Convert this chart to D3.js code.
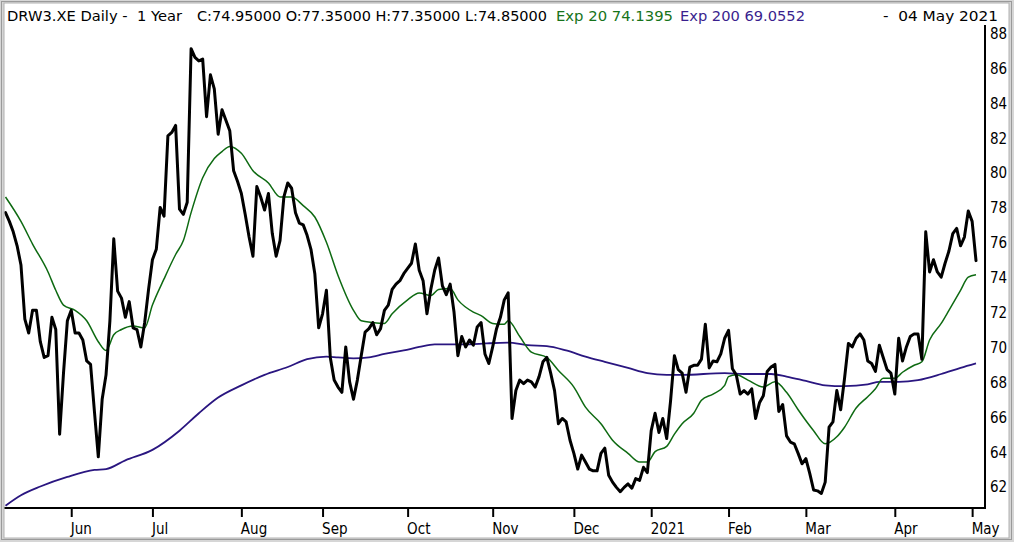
<!DOCTYPE html>
<html><head><meta charset="utf-8">
<script src="https://cdn.jsdelivr.net/npm/d3@7"></script>
<style>
html,body{margin:0;padding:0;background:#fff;}
svg{display:block;}
.lbl{font-family:"DejaVu Sans Condensed","DejaVu Sans",sans-serif;font-stretch:condensed;font-size:15px;fill:#000;}
.hdr{font-family:"DejaVu Sans",sans-serif;font-size:14.5px;}
</style></head>
<body>
<svg id="chart" width="1014" height="542"></svg>
<script>
// ---- data ----
const firstDay = "2020-05-07";
const lastDay = "2021-05-04";
const holidays = ["2020-06-01","2020-12-24","2020-12-25","2020-12-31","2021-01-01","2021-04-02","2021-04-05"];
const closes = [
77.7,77.2,76.6,75.8,74.7,71.6,70.8,72.1,72.1,70.3,
69.4,69.5,71.7,71.0,65.0,68.5,71.5,72.1,70.8,70.8,
70.4,69.2,69.0,66.3,63.7,67.0,68.4,71.5,76.2,73.2,
72.8,71.7,72.6,71.1,71.0,70.0,71.4,73.3,75.0,75.6,
78.0,77.5,82.1,82.3,82.7,77.9,77.6,78.3,87.1,86.6,
86.4,86.5,83.2,85.6,84.8,82.2,83.6,83.0,82.4,80.1,
79.5,78.8,77.6,76.3,75.2,79.2,78.6,77.85,78.8,76.5,
75.2,76.1,78.6,79.4,79.1,77.7,77.1,77.0,76.4,75.6,
74.2,71.1,71.9,73.25,69.4,68.1,67.7,67.4,70.0,68.0,
67.0,68.1,69.5,70.85,71.05,71.4,70.7,71.05,72.1,72.4,
73.3,73.6,73.8,74.2,74.5,74.8,75.9,74.4,73.8,71.9,
73.3,74.4,75.1,73.5,73.0,73.6,72.0,69.5,70.6,70.0,
70.4,70.1,71.15,71.4,69.6,69.05,70.0,71.05,71.7,72.7,
73.1,65.9,67.5,68.1,67.9,68.1,68.0,67.7,68.3,69.15,
69.4,68.5,67.5,65.6,65.9,65.7,64.65,63.9,63.0,63.8,
63.4,63.0,62.9,62.9,63.9,64.2,62.65,62.25,61.95,61.7,
61.95,62.15,61.9,62.45,62.35,63.1,62.8,65.2,66.2,65.1,
65.9,64.75,66.9,69.5,68.7,68.5,67.4,68.85,68.95,68.95,
69.3,71.3,68.8,69.2,69.15,69.6,70.5,70.95,68.75,68.4,
67.3,67.5,67.3,67.6,65.9,66.8,67.2,68.6,68.85,69.0,
66.3,66.7,64.9,64.55,64.45,63.9,63.3,63.6,62.75,61.8,
61.75,61.6,62.25,65.4,65.7,67.5,66.4,68.2,70.2,70.0,
70.5,70.75,70.4,69.2,69.05,68.6,70.1,69.4,68.7,68.5,
67.3,70.5,69.2,70.0,70.6,70.75,70.75,69.3,76.6,74.3,
75.0,74.3,74.0,74.8,75.5,76.5,76.8,75.8,76.3,77.8,
77.2,74.95];
// EMA 20 read at selected trading-day indices
const ema20Idx = [0,4,7,11,13,15,18,21,24,26,28,30,33,36,38,41,44,46,48,51,54,56,58,61,64,68,71,74,77,80,83,86,90,92,95,98,100,104,107,110,112,115,117,121,123,126,129,130,133,136,140,143,147,150,154,157,161,164,166,168,171,173,175,178,180,183,186,187,189,192,196,199,202,205,209,212,215,217,220,223,225,227,230,232,235,237,239,242,244,247,249,251];
const ema20Val = [78.6,77.2,75.9,74.3,73.25,72.4,72.1,71.5,70.3,69.8,70.7,71.0,71.2,71.1,72.4,73.9,75.3,76.1,77.7,79.7,80.8,81.2,81.5,81.1,80.1,79.4,78.6,78.6,78.1,77.45,76.0,74.1,72.1,71.5,71.4,71.35,71.9,72.7,73.1,72.95,73.3,73.35,72.7,72.0,71.8,71.35,71.3,71.5,70.6,69.7,69.4,68.65,67.7,66.55,65.6,64.65,63.9,63.4,63.4,64.0,64.3,65.0,65.6,66.2,66.95,67.3,67.8,68.3,68.4,68.1,67.7,68.0,67.4,66.4,65.2,64.45,64.85,65.4,66.5,67.15,67.6,68.2,68.2,68.55,68.95,69.15,70.4,71.35,72.1,73.25,74.0,74.14];
// EMA 200 read at selected trading-day indices
const ema200Idx = [0,4,9,16,23,26,31,38,45,50,55,61,67,73,78,83,86,90,94,98,103,107,111,116,120,124,130,135,140,145,150,155,161,166,171,175,186,191,198,202,207,212,217,223,226,231,236,242,247,251];
const ema200Val = [60.9,61.5,62.0,62.55,62.95,63.0,63.5,64.1,65.2,66.2,67.1,67.8,68.4,68.85,69.3,69.45,69.4,69.35,69.4,69.6,69.8,70.0,70.15,70.15,70.15,70.2,70.25,70.1,70.05,69.8,69.45,69.15,68.8,68.5,68.4,68.4,68.5,68.45,68.45,68.3,68.05,67.8,67.75,67.85,68.0,68.0,68.1,68.45,68.8,69.06];
const yTicks = [62,64,66,68,70,72,74,76,78,80,82,84,86,88];
const monthLabels = ["Jun","Jul","Aug","Sep","Oct","Nov","Dec","2021","Feb","Mar","Apr","May"];
const headerMain = "DRW3.XE Daily -  1 Year";
const headerOHLC = "C:74.95000 O:77.35000 H:77.35000 L:74.85000";
const headerEma20 = "Exp 20 74.1395";
const headerEma200 = "Exp 200 69.0552";
const headerDate = "-  04 May 2021";

// ---- trading calendar ----
const fmt = d3.timeFormat("%Y-%m-%d");
const parse = d3.timeParse("%Y-%m-%d");
const hol = new Set(holidays);
const days = d3.timeDay.range(parse(firstDay), d3.timeDay.offset(parse(lastDay),1))
  .filter(d => d.getDay() !== 0 && d.getDay() !== 6 && !hol.has(fmt(d)));
const keys = days.map(fmt);

const svg = d3.select("#chart");
// frame
svg.append("rect").attr("x",0).attr("y",0).attr("width",1014).attr("height",542).attr("fill","#d6d6d6");
svg.append("rect").attr("x",1.5).attr("y",1.5).attr("width",1010).attr("height",538).attr("fill","none").attr("stroke","#9a9a9a");
svg.append("rect").attr("x",4).attr("y",3).attr("width",1005).attr("height",535).attr("fill","#fff").attr("stroke","#b0b0b0").attr("stroke-width",1);

const x = d3.scalePoint().domain(keys).range([5.5, 976]);
const y = d3.scaleLinear().domain([62, 88]).range([486.5, 33]);

const plotL = 4.5, plotR = 985, plotT = 25, plotB = 508;
svg.append("clipPath").attr("id","clip").append("rect")
  .attr("x",plotL).attr("y",plotT).attr("width",plotR-plotL).attr("height",plotB-plotT);

const g = svg.append("g").attr("clip-path","url(#clip)");

const lineIdx = d3.line().x(d => x(keys[d[0]])).y(d => y(d[1]));

g.append("path").datum(ema200Idx.map((k,i)=>[k, ema200Val[i]]))
  .attr("fill","none").attr("stroke","#2a1680").attr("stroke-width",1.8)
  .attr("d", lineIdx.curve(d3.curveMonotoneX));
g.append("path").datum(ema20Idx.map((k,i)=>[k, ema20Val[i]]))
  .attr("fill","none").attr("stroke","#0e6a12").attr("stroke-width",1.5)
  .attr("d", lineIdx.curve(d3.curveMonotoneX));
g.append("path").datum(closes.map((v,i)=>[i, v]))
  .attr("fill","none").attr("stroke","#000").attr("stroke-width",3)
  .attr("stroke-linejoin","round").attr("stroke-linecap","round")
  .attr("d", d3.line().x(d => x(keys[d[0]])).y(d => y(d[1])));

// axes
const xAxis = d3.axisBottom(x)
  .tickValues(keys.filter((k,i)=> i>0 && k.slice(0,7) !== keys[i-1].slice(0,7)))
  .tickSize(9).tickFormat((d,i)=>monthLabels[i]);
const ax = svg.append("g").attr("transform",`translate(0,${plotB})`).call(xAxis);
ax.select(".domain").remove();
ax.selectAll(".tick line").attr("stroke","#000").attr("stroke-width",2);
ax.selectAll(".tick text").attr("class","lbl").attr("text-anchor","start")
  .attr("x",-1).attr("y",26).attr("dy",0);

const yAxis = d3.axisRight(y).tickValues(yTicks).tickSize(0).tickPadding(5).tickFormat(d3.format("d"));
const ay = svg.append("g").attr("transform",`translate(${plotR},0)`).call(yAxis);
ay.select(".domain").remove();
ay.selectAll(".tick text").attr("class","lbl").attr("dy","0.36em");

svg.append("line").attr("x1",plotL).attr("x2",plotR+1).attr("y1",plotB).attr("y2",plotB).attr("stroke","#000").attr("stroke-width",2);
svg.append("line").attr("x1",plotR).attr("x2",plotR).attr("y1",plotT).attr("y2",plotB+1).attr("stroke","#000").attr("stroke-width",2);

// header
const hdr = [
  {t:headerMain, x:7, w:175, c:"#000"},
  {t:headerOHLC, x:197, w:350, c:"#000"},
  {t:headerEma20, x:556, w:117, c:"#17731a"},
  {t:headerEma200, x:680, w:125, c:"#3a1f8e"},
  {t:headerDate, x:883, w:115, c:"#000"}
];
svg.selectAll("text.hdr").data(hdr).join("text").attr("class","hdr")
  .attr("x",d=>d.x).attr("y",20.5).attr("fill",d=>d.c)
  .attr("textLength",d=>d.w).attr("lengthAdjust","spacingAndGlyphs")
  .style("white-space","pre").text(d=>d.t);
</script>
</body></html>
